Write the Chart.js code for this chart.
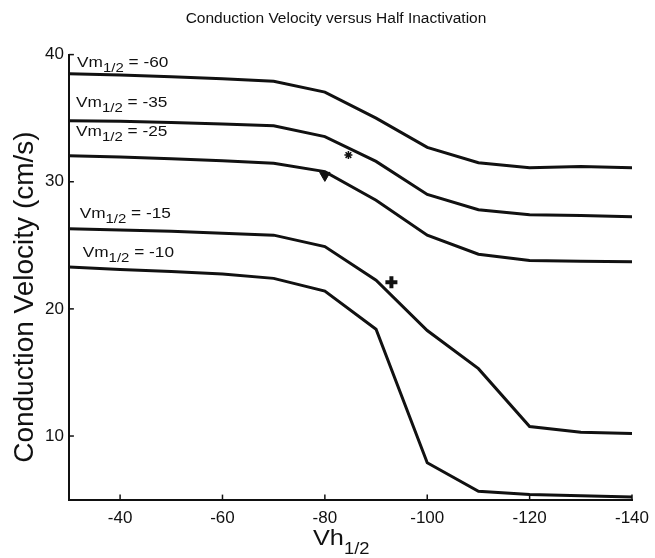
<!DOCTYPE html>
<html>
<head>
<meta charset="utf-8">
<script src="https://cdn.jsdelivr.net/npm/chart.js@4.4.1/dist/chart.umd.min.js"></script>
<style>
  html, body { margin: 0; padding: 0; background: #fff; }
  #chart { display: block; }
</style>
</head>
<body>
<canvas id="chart" width="655" height="558"></canvas>
<script>
// x positions (Vh1/2, mV)
const vh = [-30, -40, -50, -60, -70, -80, -90, -100, -110, -120, -130, -140];

// conduction velocity (cm/s) for each Vm1/2
const vm60 = [38.5, 38.4, 38.25, 38.1, 37.9, 37.05, 35.0, 32.7, 31.5, 31.1, 31.2, 31.1];
const vm35 = [34.8, 34.75, 34.65, 34.55, 34.4, 33.55, 31.6, 29.0, 27.8, 27.4, 27.35, 27.25];
const vm25 = [32.05, 31.95, 31.8, 31.65, 31.45, 30.8, 28.55, 25.8, 24.3, 23.8, 23.75, 23.7];
const vm15 = [26.3, 26.2, 26.1, 25.95, 25.8, 24.9, 22.25, 18.3, 15.3, 10.75, 10.3, 10.2];
const vm10 = [23.3, 23.1, 22.95, 22.75, 22.4, 21.4, 18.4, 7.9, 5.65, 5.4, 5.3, 5.2];

const seriesNames = ["-60", "-35", "-25", "-15", "-10"];

// marked points on the curves
const starPt = [{ x: -84.6, y: 32.1 }];
const trianglePt = [{ x: -80, y: 30.5 }];
const plusPt = [{ x: -93, y: 22.1 }];

const xTicks = [-40, -60, -80, -100, -120, -140];
const yTicks = [10, 20, 30, 40];

const FONT = "'Liberation Sans', Arial, Helvetica, sans-serif";
const INK = "#111";
const STRETCH = 1.15; // the figure's text looks widened

function toPoints(ys) {
    return vh.map((x, i) => ({ x: x, y: ys[i] }));
}

// labels, subscripted titles, inward ticks
const annotatePlugin = {
    id: "annotatePlugin",
    afterDraw(chart) {
        const { ctx, chartArea } = chart;
        const xs = chart.scales.x;
        const ys = chart.scales.y;
        ctx.save();
        ctx.fillStyle = INK;
        ctx.strokeStyle = INK;

        // inward tick marks
        ctx.lineWidth = 1.5;
        xTicks.forEach(v => {
            const px = xs.getPixelForValue(v);
            ctx.beginPath();
            ctx.moveTo(px, chartArea.bottom);
            ctx.lineTo(px, chartArea.bottom - 5);
            ctx.stroke();
        });
        yTicks.forEach(v => {
            const py = ys.getPixelForValue(v);
            ctx.beginPath();
            ctx.moveTo(chartArea.left, py);
            ctx.lineTo(chartArea.left + 5, py);
            ctx.stroke();
        });

        // text with a subscript part, widened horizontally
        function subText(main, sub, rest, x, y, size, subSize, drop) {
            ctx.save();
            ctx.translate(x, y);
            ctx.scale(STRETCH, 1);
            ctx.textAlign = "left";
            ctx.textBaseline = "alphabetic";
            ctx.font = size + "px " + FONT;
            ctx.fillText(main, 0, 0);
            let cx = ctx.measureText(main).width;
            ctx.font = subSize + "px " + FONT;
            ctx.fillText(sub, cx, drop);
            cx += ctx.measureText(sub).width;
            if (rest) {
                ctx.font = size + "px " + FONT;
                ctx.fillText(rest, cx, 0);
            }
            ctx.restore();
        }

        // curve labels (anchored in data units)
        const anchors = [
            [-31.6, 39.0], [-31.4, 35.85], [-31.4, 33.6], [-32.1, 27.15], [-32.7, 24.1]
        ];
        seriesNames.forEach((name, i) => {
            const px = xs.getPixelForValue(anchors[i][0]);
            const py = ys.getPixelForValue(anchors[i][1]);
            subText("Vm", "1/2", " = " + name, px, py, 15, 13, 5);
        });

        // x axis title
        subText("Vh", "1/2", "", 313, 545, 22, 16, 9);

        // y axis title
        ctx.save();
        ctx.translate(33, (chartArea.top + chartArea.bottom) / 2 + 20);
        ctx.rotate(-Math.PI / 2);
        ctx.textAlign = "center";
        ctx.textBaseline = "alphabetic";
        ctx.font = "28px " + FONT;
        ctx.fillText("Conduction Velocity (cm/s)", 0, 0);
        ctx.restore();

        ctx.restore();
    }
};

new Chart(document.getElementById("chart"), {
    type: "line",
    data: {
        datasets: [
            ...[vm60, vm35, vm25, vm15, vm10].map((ys, i) => ({
                label: "Vm1/2 = " + seriesNames[i],
                data: toPoints(ys),
                borderColor: INK,
                borderWidth: 3,
                pointRadius: 0,
                tension: 0,
                fill: false
            })),
            {
                type: "scatter",
                label: "star",
                data: starPt,
                pointStyle: "star",
                pointRadius: 4,
                borderColor: INK,
                borderWidth: 1.5
            },
            {
                type: "scatter",
                label: "triangle",
                data: trianglePt,
                pointStyle: "triangle",
                rotation: 180,
                pointRadius: 6,
                backgroundColor: INK,
                borderColor: INK,
                borderWidth: 1
            },
            {
                type: "scatter",
                label: "plus",
                data: plusPt,
                pointStyle: "cross",
                pointRadius: 6,
                borderColor: INK,
                borderWidth: 4
            }
        ]
    },
    options: {
        responsive: false,
        animation: false,
        layout: { autoPadding: false, padding: { left: 40, right: 23, top: 0, bottom: 20 } },
        plugins: {
            legend: { display: false },
            tooltip: { enabled: false },
            title: {
                display: true,
                text: "Conduction Velocity versus Half Inactivation",
                color: INK,
                font: { family: FONT, size: 15.5, weight: "normal" },
                padding: { top: 9, bottom: 27 }
            }
        },
        scales: {
            x: {
                type: "linear",
                min: -140,
                max: -30,
                reverse: true,
                afterBuildTicks: s => { s.ticks = xTicks.map(v => ({ value: v })); },
                afterFit: s => { s.paddingLeft = 0; s.paddingRight = 0; },
                grid: { display: false, drawTicks: false },
                border: { display: true, color: INK, width: 2 },
                ticks: {
                    color: INK,
                    padding: 9,
                    font: { family: FONT, size: 17 },
                    maxRotation: 0
                }
            },
            y: {
                min: 5,
                max: 40,
                afterBuildTicks: s => { s.ticks = yTicks.map(v => ({ value: v })); },
                grid: { display: false, drawTicks: false },
                border: { display: true, color: INK, width: 2 },
                ticks: { color: INK, padding: 5, font: { family: FONT, size: 17 } }
            }
        }
    },
    plugins: [annotatePlugin]
});
</script>
</body>
</html>
